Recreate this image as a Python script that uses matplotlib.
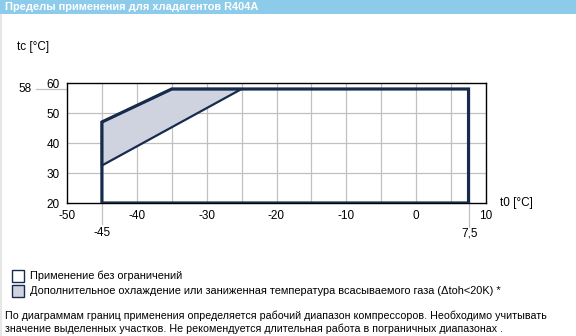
import matplotlib
matplotlib.use("Agg")
import matplotlib.pyplot as plt
from matplotlib.patches import Rectangle, Polygon

plt.rcParams['font.family'] = ['Liberation Sans', 'DejaVu Sans']

# ---- data ----
title = "Пределы применения для хладагентов R404A"
envelope_t0 = [-45, -45, -35, 7.5, 7.5]
envelope_tc = [20, 47, 58, 58, 20]
shaded_t0 = [-45, -35, -25, -45]
shaded_tc = [47, 58, 58, 32.5]
x_ticks = [-50, -40, -30, -20, -10, 0, 10]
y_ticks = [20, 30, 40, 50, 60]
legend_labels = ["Применение без ограничений",
                 "Дополнительное охлаждение или заниженная температура всасываемого газа (Δtoh<20K) *"]
footer = ("По диаграммам границ применения определяется рабочий диапазон компрессоров. Необходимо учитывать\n"
          "значение выделенных участков. Не рекомендуется длительная работа в пограничных диапазонах .")

W, H = 576, 336
fig = plt.figure(figsize=(W / 100, H / 100), dpi=100)

def fx(px):
    return px / W

def fy(py):
    return 1 - py / H

# title bar + left strip
fig.patches.append(Rectangle((0, fy(14)), 1, 14 / H, transform=fig.transFigure,
                             facecolor="#8dcbeb", edgecolor="none"))
fig.patches.append(Rectangle((0, 0), 2 / W, fy(14), transform=fig.transFigure,
                             facecolor="#e6e6e6", edgecolor="none"))
fig.text(fx(5), fy(7), title, color="white", fontsize=7.9, fontweight="bold", va="center")

ax = fig.add_axes([fx(67), fy(203), 419 / W, 120 / H])
ax.set_xlim(-50, 10)
ax.set_ylim(20, 60)
grid_c = "#c0c0c0"
for x in range(-45, 10, 5):
    ax.axvline(x, color=grid_c, lw=0.9, zorder=0)
for y in [30, 40, 50]:
    ax.axhline(y, color=grid_c, lw=0.9, zorder=0)

# extended guide lines for the special values
ax.plot([-54.4, -50], [58, 58], color=grid_c, lw=0.9, clip_on=False, zorder=0)
ax.plot([-45, -45], [20, 13], color=grid_c, lw=0.9, clip_on=False, zorder=0)
ax.plot([7.5, 7.5], [20, 12], color=grid_c, lw=0.9, clip_on=False, zorder=0)

ax.add_patch(Polygon(list(zip(shaded_t0, shaded_tc)), closed=True,
                     facecolor="#cfd3df", edgecolor="#172b4d", lw=1.6, zorder=2))
ax.add_patch(Polygon(list(zip(envelope_t0, envelope_tc)), closed=True,
                     facecolor="none", edgecolor="#172b4d", lw=2.3, zorder=3,
                     joinstyle="miter"))

for s in ax.spines.values():
    s.set_linewidth(1.0)
    s.set_color("black")
ax.set_xticks(x_ticks)
ax.set_yticks(y_ticks)
ax.tick_params(length=0, labelsize=8.5, pad=5)
ax.set_xticklabels([str(v) for v in x_ticks])
ax.set_yticklabels([str(v) for v in y_ticks])

fig.text(fx(18), fy(89), "58", fontsize=8.5, va="center")
fig.text(fx(102), fy(233), "-45", fontsize=8.5, va="center", ha="center")
fig.text(fx(470), fy(233), "7,5", fontsize=8.5, va="center", ha="center")
fig.text(fx(17), fy(47), "tc [°C]", fontsize=8.5, va="center")
fig.text(fx(500), fy(203), "t0 [°C]", fontsize=8.5, va="center")

# legend
for i, (lab, fc) in enumerate(zip(legend_labels, ["white", "#cfd3df"])):
    y0 = 270 + i * 15
    fig.patches.append(Rectangle((fx(12), fy(y0 + 12)), 12 / W, 12 / H, transform=fig.transFigure,
                                 facecolor=fc, edgecolor="#172b4d", lw=1.0))
    fig.text(fx(30), fy(y0 + 6), lab, fontsize=7.9, va="center")

fig.text(fx(5), fy(322), footer, fontsize=7.65, va="center", linespacing=1.25)

fig.savefig("out.png", dpi=100)
